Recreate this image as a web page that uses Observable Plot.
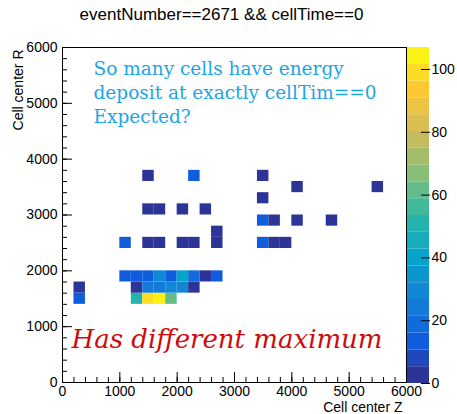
<!DOCTYPE html>
<html>
<head>
<meta charset="utf-8">
<script src="https://cdn.jsdelivr.net/npm/d3@7"></script>
<script src="https://cdn.jsdelivr.net/npm/@observablehq/plot@0.6"></script>
<style>
  body { margin: 0; background: #fff; }
  #wrap { position: relative; width: 457px; height: 414px; overflow: hidden; background: #fff; }
  #wrap svg { position: absolute; left: 0; top: 0; }
</style>
</head>
<body>
<div id="wrap"></div>
<script>
// ---- data (bin lower edges, bin width 200) ----
const binWidth = 200;
const cellZ = [200, 1200, 1400, 1600, 1800,
               200, 1200, 1400, 1600, 1800, 2000, 2200,
               1000, 1200, 1400, 1600, 1800, 2000, 2200, 2400, 2600,
               1000, 1400, 1600, 2000, 2200, 2600, 3400, 3600, 3800,
               2600,
               3400, 3600, 4000, 4600,
               1400, 1600, 2000, 2400,
               3400,
               4000, 5400,
               1400, 2200, 3400];
const cellR = [1400, 1400, 1400, 1400, 1400,
               1600, 1600, 1600, 1600, 1600, 1600, 1600,
               1800, 1800, 1800, 1800, 1800, 1800, 1800, 1800, 1800,
               2400, 2400, 2400, 2400, 2400, 2400, 2400, 2400, 2400,
               2600,
               2800, 2800, 2800, 2800,
               3000, 3000, 3000, 3000,
               3200,
               3400, 3400,
               3600, 3600, 3600];
const cellCount = [13, 50, 99, 106, 61,
                   4, 4, 23, 23, 30, 29, 4,
                   14, 14, 14, 29, 15, 42, 18, 4, 13,
                   12, 4, 3, 4, 3, 4, 12, 4, 3,
                   3,
                   12, 4, 3, 3,
                   4, 3, 3, 4,
                   3,
                   4, 3,
                   4, 12, 3];

const xMajor = [0, 1000, 2000, 3000, 4000, 5000, 6000];
const yMajor = [0, 1000, 2000, 3000, 4000, 5000, 6000];
const xMinor = d3.range(0, 6001, 200);
const yMinor = d3.range(0, 6001, 200);
const zMax = 107;
const nLevels = 20;
const zTicks = [0, 20, 40, 60, 80, 100];

const titleText = "eventNumber==2671 && cellTime==0";
const xTitle = "Cell center Z";
const yTitle = "Cell center R";
const noteBlue = ["So many cells have energy", "deposit at exactly cellTim==0", "Expected?"];
const noteRed = "Has different maximum";

// ---- ROOT "bird" palette, 20 contour levels ----
const birdColors = ["#352a87", "#0f5cdd", "#1481d6", "#06a4ca", "#2eb7a4", "#87bf77", "#d1bb59", "#fec832", "#f9fb0e"];
const bird = d3.piecewise(d3.interpolateRgb, birdColors);
const step = zMax / nLevels;
const thresholds = d3.range(1, nLevels).map(k => k * step);
const levelColors = d3.range(nLevels).map(k => bird((k + 0.5) / nLevels));
const colorScale = {type: "threshold", domain: thresholds, range: levelColors};

const cells = cellZ.map((z, i) => ({z1: z, z2: z + binWidth, r1: cellR[i], r2: cellR[i] + binWidth, c: cellCount[i]}));
const bands = d3.range(nLevels).map(k => ({lo: k * step, hi: (k + 1) * step, mid: (k + 0.5) * step}));

const W = 457, H = 414;
const font = "'Liberation Sans', Arial, sans-serif";

const main = Plot.plot({
  width: W, height: H,
  marginLeft: 62, marginRight: 51, marginTop: 47, marginBottom: 32,
  style: {fontFamily: font, fontSize: "14px", color: "black", background: "transparent"},
  x: {domain: [0, 6000]},
  y: {domain: [0, 6000]},
  color: colorScale,
  marks: [
    Plot.rect(cells, {x1: "z1", x2: "z2", y1: "r1", y2: "r2", fill: "c"}),
    Plot.frame({stroke: "black", strokeWidth: 1}),
    // inward ticks
    Plot.axisY(yMajor, {anchor: "left", tickSize: 10, dx: 10, tickFormat: () => "", label: null}),
    Plot.axisY(yMinor, {anchor: "left", tickSize: 5, dx: 5, tickFormat: () => "", label: null}),
    Plot.axisX(xMajor, {anchor: "bottom", tickSize: 10, dy: -10, tickFormat: () => "", label: null}),
    Plot.axisX(xMinor, {anchor: "bottom", tickSize: 5, dy: -5, tickFormat: () => "", label: null}),
    // tick labels
    Plot.axisY(yMajor, {anchor: "left", tickSize: 0, tickPadding: 5, fontSize: 14, label: null, tickFormat: d => String(d)}),
    Plot.axisX(xMajor, {anchor: "bottom", tickSize: 0, tickPadding: 4, fontSize: 14, label: null, tickFormat: d => String(d)}),
    // axis titles
    Plot.text([xTitle], {frameAnchor: "bottom-right", textAnchor: "end", lineAnchor: "bottom", dy: 29, dx: -4, fontSize: 14, fill: "black"}),
    Plot.text([yTitle], {frameAnchor: "top-left", textAnchor: "end", rotate: -90, dx: -49, dy: 2, fontSize: 14, fill: "black"}),
    // title
    Plot.text([titleText], {frameAnchor: "top-left", textAnchor: "middle", lineAnchor: "bottom", dx: 159, dy: -28, fontSize: 17, fill: "black"}),
    // annotations
    Plot.text([noteBlue.join("\n")], {frameAnchor: "top-left", textAnchor: "start", lineAnchor: "top", lineHeight: 1.3, dx: 31, dy: 10, fontSize: 18.5, fontFamily: "'DejaVu Serif', serif", fill: "#1aa6e6"}),
    Plot.text([noteRed], {frameAnchor: "bottom-left", textAnchor: "start", lineAnchor: "bottom", dx: 9, dy: -35, fontSize: 26, fontStyle: "italic", fontFamily: "'DejaVu Serif', serif", fill: "#d00a0a"})
  ]
});

const bar = Plot.plot({
  width: W, height: H,
  marginLeft: 407, marginRight: 28, marginTop: 47, marginBottom: 31,
  style: {fontFamily: font, fontSize: "14px", color: "black", background: "transparent"},
  y: {domain: [0, zMax]},
  color: colorScale,
  marks: [
    Plot.rect(bands, {y1: "lo", y2: "hi", fill: "mid"}),
    Plot.axisY(zTicks, {anchor: "right", tickSize: 9, dx: -9, tickFormat: () => "", label: null}),
    Plot.axisY(zTicks, {anchor: "right", tickSize: 0, tickPadding: 2, fontSize: 14, label: null, tickFormat: d => String(d)})
  ]
});

const wrap = document.getElementById("wrap");
wrap.appendChild(main);
wrap.appendChild(bar);
</script>
</body>
</html>
